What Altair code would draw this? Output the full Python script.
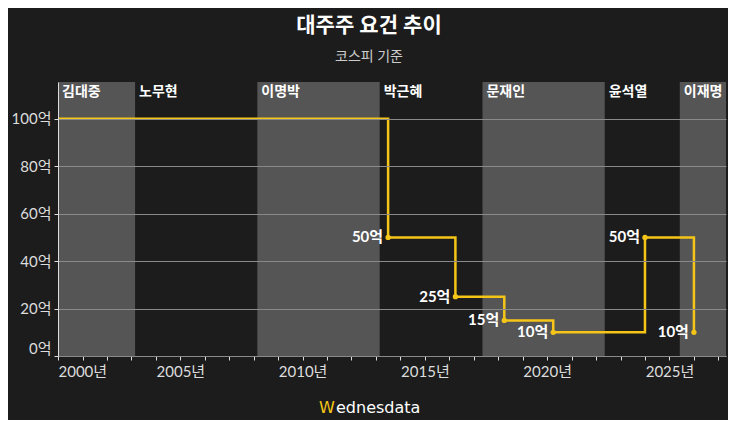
import altair as alt
import pandas as pd

# ---- data ----
presidents = ["김대중", "노무현", "이명박", "박근혜", "문재인", "윤석열", "이재명"]
term_start = ["1998-02-25", "2003-02-25", "2008-02-25", "2013-02-25", "2017-05-10", "2022-05-10", "2025-06-04"]
term_end = ["2003-02-25", "2008-02-25", "2013-02-25", "2017-05-10", "2022-05-10", "2025-06-04", "2030-06-04"]
shaded = [True, False, True, False, True, False, True]

step_dates = ["2000-01-01", "2013-07-01", "2016-04-01", "2018-04-01", "2020-04-01", "2024-01-01", "2026-01-01"]
step_values = [100, 50, 25, 15, 10, 50, 10]
step_labels = ["", "50억", "25억", "15억", "10억", "50억", "10억"]
step_marked = [False, True, True, True, True, True, True]

x_start = "2000-01-01"
x_end = "2027-04-25"
year_ticks = [f"{y}-01-01" for y in range(2000, 2028)]
y_ticks = [0, 20, 40, 60, 80, 100]

FONT = "Lato, Noto Sans CJK KR, sans-serif"
BG = "#1c1c1c"
BAND = "#555555"
GOLD = "#f5c518"

bands = pd.DataFrame({
    "name": presidents,
    "start": pd.to_datetime(term_start),
    "end": pd.to_datetime(term_end),
    "shaded": shaded,
})
bands["label_x"] = bands["start"].clip(lower=pd.Timestamp(x_start))

steps = pd.DataFrame({
    "date": pd.to_datetime(step_dates),
    "value": step_values,
    "label": step_labels,
    "marked": step_marked,
})

x_scale = alt.Scale(domain=[x_start, x_end])
y_scale = alt.Scale(domain=[0, 115.5], nice=False)

x_axis = alt.Axis(
    title=None, values=year_ticks,
    labelExpr="year(datum.value) % 5 === 0 ? timeFormat(datum.value, '%Y') + '년' : ''",
    labelFlush=True, labelOverlap=False, grid=False, tickSize=4,
    tickColor="#dddddd", domainColor="#dddddd", labelColor="#dddddd",
    labelFontSize=15, labelFont=FONT, labelPadding=4,
)
y_axis = alt.Axis(
    title=None, values=y_ticks, labelExpr="datum.value + '억'",
    labelFlush=True, grid=True, gridColor="#8a8a8a", gridWidth=1,
    tickSize=4, tickColor="#dddddd", domainColor="#dddddd",
    labelColor="#dddddd", labelFontSize=15, labelFont=FONT, labelPadding=3,
    zindex=1,
)

band_rect = alt.Chart(bands).transform_filter("datum.shaded").mark_rect(
    clip=True, color=BAND
).encode(
    x=alt.X("start:T", scale=x_scale, axis=x_axis),
    x2="end:T",
    y=alt.value(0),
    y2=alt.value(274),
)

band_text = alt.Chart(bands).mark_text(
    align="left", baseline="middle", dx=4, font=FONT, fontSize=14,
    fontWeight="bold", color="white"
).encode(
    x=alt.X("label_x:T", scale=x_scale, axis=x_axis),
    y=alt.value(10),
    text="name:N",
)

line = alt.Chart(steps).mark_line(
    interpolate="step-after", color=GOLD, strokeWidth=2.5
).encode(
    x=alt.X("date:T", scale=x_scale, axis=x_axis),
    y=alt.Y("value:Q", scale=y_scale, axis=y_axis),
)

pts = alt.Chart(steps).transform_filter("datum.marked").mark_circle(
    color=GOLD, size=28, opacity=1
).encode(
    x=alt.X("date:T", scale=x_scale, axis=x_axis),
    y=alt.Y("value:Q", scale=y_scale, axis=y_axis),
)

labels = alt.Chart(steps).transform_filter("datum.marked").mark_text(
    align="right", baseline="middle", dx=-5, font=FONT, fontSize=15,
    fontWeight="bold", color="white"
).encode(
    x=alt.X("date:T", scale=x_scale, axis=x_axis),
    y=alt.Y("value:Q", scale=y_scale, axis=y_axis),
    text="label:N",
)

brand_w = alt.Chart(pd.DataFrame({"t": ["W"]})).mark_text(
    align="left", baseline="middle", font="DejaVu Sans", fontSize=16,
    color=GOLD
).encode(x=alt.value(261), y=alt.value(326), text="t:N")

brand_rest = alt.Chart(pd.DataFrame({"t": ["ednesdata"]})).mark_text(
    align="left", baseline="middle", font="DejaVu Sans", fontSize=16,
    color="white"
).encode(x=alt.value(278), y=alt.value(326), text="t:N")

chart = alt.layer(
    band_rect, band_text, line, pts, labels, brand_w, brand_rest
).properties(
    width=668, height=274,
    padding={"left": 50, "top": 74, "right": 2, "bottom": 64},
    autosize=alt.AutoSizeParams(type="none"),
    background=BG,
    title=alt.TitleParams(
        text="대주주 요건 추이", subtitle="코스피 기준",
        font=FONT, fontSize=21, fontWeight="bold", color="white",
        subtitleFont=FONT, subtitleFontSize=14, subtitleColor="#cccccc",
        subtitlePadding=14, anchor="middle", dx=-23, offset=18,
    ),
).configure_view(stroke=None).configure_axisX(labelOverlap=False)

chart.save("out.html", embed_options={"renderer": "svg", "actions": False})
